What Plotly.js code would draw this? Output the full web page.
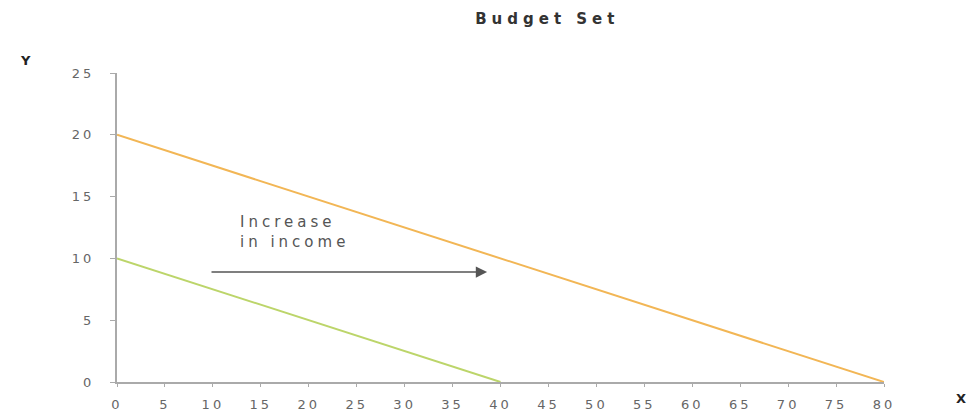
<!DOCTYPE html>
<html>
<head>
<meta charset="utf-8">
<script src="https://cdn.plot.ly/plotly-3.0.1.min.js"></script>
<style>
html,body{margin:0;padding:0;background:#fff;}
#chart{width:973px;height:416px;}
#chart .gtitle{letter-spacing:5px;}
#chart .xtick text,#chart .ytick text{letter-spacing:3px;}
#chart .annotation-text{letter-spacing:4px;}
</style>
</head>
<body>
<div id="chart"></div>
<script>
// Budget lines: original income and increased income
const originalX = [0, 40];
const originalY = [10, 0];
const increasedX = [0, 80];
const increasedY = [20, 0];
const xTicks = [0,5,10,15,20,25,30,35,40,45,50,55,60,65,70,75,80];
const yTicks = [0,5,10,15,20,25];

const FAM = 'DejaVu Sans, Verdana, sans-serif';
const font = {family: FAM, color: '#666', size: 13};

const traces = [
  {x: originalX, y: originalY, mode: 'lines', line: {color: '#bcd56a', width: 2}, hoverinfo: 'skip', cliponaxis: false},
  {x: increasedX, y: increasedY, mode: 'lines', line: {color: '#f2b655', width: 2}, hoverinfo: 'skip', cliponaxis: false}
];

const layout = {
  width: 973, height: 416,
  margin: {l: 117, r: 89, t: 73, b: 34},
  paper_bgcolor: '#fff', plot_bgcolor: '#fff',
  showlegend: false,
  title: {text: '<b>Budget Set</b>', x: 0.561, xref: 'paper', xanchor: 'center', y: 0.955, yanchor: 'middle',
          font: {family: FAM, size: 15, color: '#333'}},
  xaxis: {range: [0, 80], tickvals: xTicks, ticktext: xTicks.map(String), showgrid: false, zeroline: false,
          showline: true, linecolor: '#aaa', linewidth: 2, ticks: 'outside', ticklen: 3, tickcolor: '#aaa',
          tickfont: font, fixedrange: true, ticklabelstandoff: 6},
  yaxis: {range: [0, 25], tickvals: yTicks, ticktext: yTicks.map(String), showgrid: false, zeroline: false,
          showline: true, linecolor: '#aaa', linewidth: 2, ticks: 'outside', ticklen: 5, tickcolor: '#aaa',
          tickfont: font, fixedrange: true, ticklabelstandoff: 13},
  annotations: [
    {x: 12.6, y: 12.1, xref: 'x', yref: 'y', text: 'Increase<br>in income', showarrow: false, align: 'left',
     xanchor: 'left', yanchor: 'middle', font: {family: FAM, size: 15, color: '#555'}},
    {x: 38.6, y: 8.9, ax: 9.7, ay: 8.9, xref: 'x', yref: 'y', axref: 'x', ayref: 'y', text: '', showarrow: true,
     arrowhead: 2, arrowsize: 1.5, arrowwidth: 1.5, arrowcolor: '#555'},
    {x: -0.117, y: 1.042, xref: 'paper', yref: 'paper', text: '<b>Y</b>', showarrow: false,
     xanchor: 'center', yanchor: 'middle', font: {family: FAM, size: 13, color: '#222'}},
    {x: 1.094, y: -0.055, xref: 'paper', yref: 'paper', text: '<b>X</b>', showarrow: false,
     xanchor: 'left', yanchor: 'middle', font: {family: FAM, size: 13, color: '#222'}}
  ]
};

Plotly.newPlot('chart', traces, layout, {displayModeBar: false, staticPlot: true});
</script>
</body>
</html>
